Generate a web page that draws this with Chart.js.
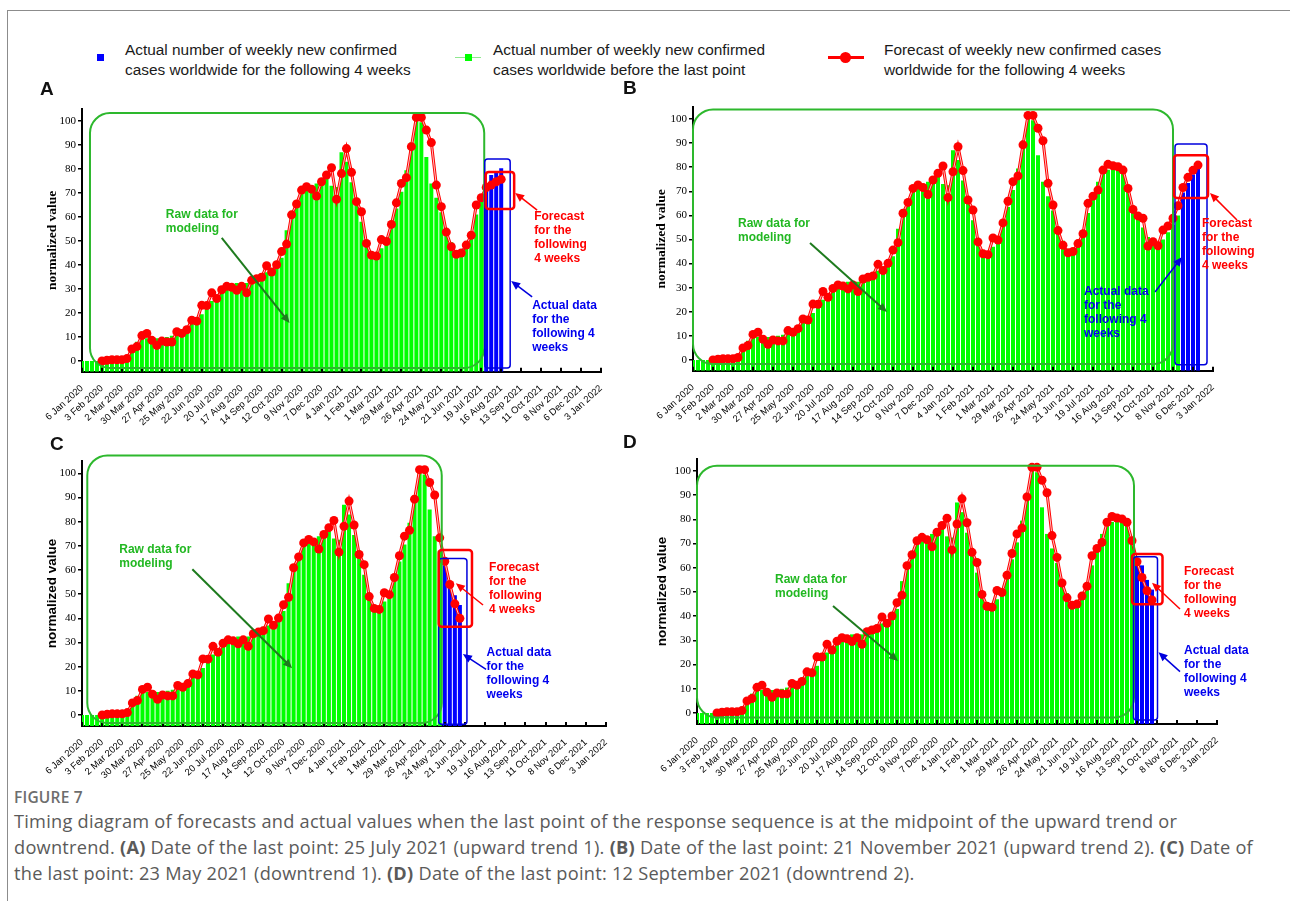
<!DOCTYPE html>
<html>
<head>
<meta charset="utf-8">
<title>Figure 7</title>
<script src="https://cdn.jsdelivr.net/npm/chart.js@4.4.1/dist/chart.umd.min.js"></script>
<style>
  body { margin: 0; width: 1290px; height: 901px; position: relative; overflow: hidden; background: #fff; font-family: 'Liberation Sans', Arial, sans-serif; }
  .rule { position: absolute; background: #8c8c8c; }
  .legend-text { position: absolute; font-size: 15.4px; line-height: 20px; color: #1a1a1a; white-space: nowrap; }
  .swatch { position: absolute; }
  .tag { position: absolute; font-weight: bold; font-size: 19px; line-height: 20px; color: #111; }
  canvas { position: absolute; }
  .fig-no { position: absolute; left: 14px; top: 786px; font: 600 15.5px/22px 'Open Sans'; color: #6d6d6d; letter-spacing: 0.2px; }
  .caption { position: absolute; left: 14px; top: 808px; font: 18.2px/26px 'Open Sans'; letter-spacing: 0.25px; color: #5a5a5a; white-space: nowrap; }
</style>
</head>
<body>
<div class="rule" style="left:7px;top:10px;width:1283px;height:1px"></div>
<div class="rule" style="left:7px;top:10px;width:1px;height:891px"></div>

<!-- legend -->
<div class="swatch" style="left:97px;top:54px;width:7px;height:7px;background:#0000ff"></div>
<div class="legend-text" style="left:125px;top:40px">Actual number of weekly new confirmed<br>cases worldwide for the following 4 weeks</div>
<div class="swatch" style="left:455px;top:57px;width:26px;height:1px;background:#8fe88f"></div>
<div class="swatch" style="left:465px;top:54px;width:7px;height:7px;background:#00ff00"></div>
<div class="legend-text" style="left:493px;top:40px">Actual number of weekly new confirmed<br>cases worldwide before the last point</div>
<div class="swatch" style="left:828px;top:56px;width:36px;height:3px;background:#ff0000"></div>
<div class="swatch" style="left:840px;top:52px;width:11px;height:11px;border-radius:50%;background:#ff0000"></div>
<div class="legend-text" style="left:884px;top:40px">Forecast of weekly new confirmed cases<br>worldwide for the following 4 weeks</div>

<canvas id="chartA"></canvas>
<canvas id="chartB"></canvas>
<canvas id="chartC"></canvas>
<canvas id="chartD"></canvas>

<div class="tag" style="left:40px;top:79px">A</div>
<div class="tag" style="left:623px;top:78px">B</div>
<div class="tag" style="left:50px;top:434px">C</div>
<div class="tag" style="left:623px;top:432px">D</div>

<div class="fig-no">FIGURE 7</div>
<div class="caption">Timing diagram of forecasts and actual values when the last point of the response sequence is at the midpoint of the upward trend or<br>downtrend. <b>(A)</b> Date of the last point: 25 July 2021 (upward trend 1). <b>(B)</b> Date of the last point: 21 November 2021 (upward trend 2). <b>(C)</b> Date of<br>the last point: 23 May 2021 (downtrend 1). <b>(D)</b> Date of the last point: 12 September 2021 (downtrend 2).</div>

<script>
// ─── Data ────────────────────────────────────────
const tickDates = ['6 Jan 2020', '3 Feb 2020', '2 Mar 2020', '30 Mar 2020', '27 Apr 2020', '25 May 2020',
  '22 Jun 2020', '20 Jul 2020', '17 Aug 2020', '14 Sep 2020', '12 Oct 2020', '9 Nov 2020', '7 Dec 2020',
  '4 Jan 2021', '1 Feb 2021', '1 Mar 2021', '29 Mar 2021', '26 Apr 2021', '24 May 2021', '21 Jun 2021',
  '19 Jul 2021', '16 Aug 2021', '13 Sep 2021', '11 Oct 2021', '8 Nov 2021', '6 Dec 2021', '3 Jan 2022'];

// weekly new cases (normalized), week 0 = 6 Jan 2020
const weeklyCases = [
  0, 0, 0, 0, 0, 0, 0, 0.5, 0.5, 1.5,
  5, 8, 9.5, 9.5, 9.5, 9.5, 9.8, 10, 10.5, 12,
  13, 14.5, 16, 17, 19.5, 22.5, 25, 27.5, 30, 31.5,
  32, 32.5, 32, 32.5, 33.5, 35, 36.5, 37, 38, 41,
  43, 54.5, 60, 65, 70.5, 71, 70.5, 74, 75.5, 78.5,
  73, 72.5, 87, 83, 74.5, 68, 58, 48, 45, 44.5,
  47, 51, 57, 63.5, 70.5, 79.5, 91, 101, 99.5, 85,
  74, 68, 62, 55, 49.5, 45.5, 45, 48, 53, 61,
  67, 74, 77.5, 79, 80.3, 80, 79, 72, 64, 61,
  55, 51, 48, 47.5, 50, 53, 56, 60, 69.5, 73.5,
  77, 79.5];

// model fit, starts at week 4 (3 Feb 2020)
const fitStartWeek = 4;
const fittedCases = [
  0, 0.3, 0.5, 0.5, 0.5, 1,
  5, 6, 10.6, 11.5, 8.6, 6.5, 8.3, 7.9, 7.9, 12.2,
  11.5, 13, 17, 16.6, 23.2, 23.1, 28.4, 26, 29.7, 31.1,
  30.7, 29.5, 31.1, 28.4, 33.6, 34.3, 34.9, 39.7, 37.1, 40.1,
  45.6, 48.7, 60.9, 65.4, 71.2, 72.6, 71.6, 68.7, 74.7, 77.5,
  80.5, 67.4, 78.1, 88.5, 78.6, 66.4, 62.2, 49, 44.1, 43.7,
  50.6, 49.8, 56.9, 65.9, 74, 76.4, 89.3, 101.5, 101.5, 96.2,
  91, 73.3, 64.3, 53.7, 47.6, 44.5, 45, 48.3, 52.4, 65,
  68, 70.5, 78.8, 81.2, 80.6, 80.2, 78.8, 71.2, 62.5, 59.8,
  58.8, 47.3, 49.1, 47.4, 53.9, 55.6, 58.8, 64];

const forecastA = [72.3, 73.3, 74.7, 75.7];
const forecastB = [71.6, 75.8, 78.7, 80.9];
const forecastC = [63.6, 54, 46, 40];
const forecastD = [62.5, 56, 50.5, 46.7];

const lastWeekA = 80;  // 25 Jul 2021
const lastWeekB = 97;  // 21 Nov 2021
const lastWeekC = 71;  // 23 May 2021
const lastWeekD = 87;  // 12 Sep 2021

const yTicks = [0, 10, 20, 30, 40, 50, 60, 70, 80, 90, 100];

const forecastNote = ['Forecast', 'for the', 'following', '4 weeks'];
const actualNote = ['Actual data', 'for the', 'following 4', 'weeks'];
const rawNote = ['Raw data for', 'modeling'];

const Y_MIN = -4.5, Y_MAX = 105;

// ─── Panel layout + annotation spots (data units) ─
const serifTitle = { family: 'Liberation Serif', size: 13.5, weight: 'bold' };
const sansTitle = { family: 'Liberation Sans', size: 13.5, weight: 'bold' };

const panels = [
  { id: 'chartA', last: lastWeekA, forecast: forecastA, titleFont: serifTitle, yWidth: 38,
    box: { left: 0, top: 95, width: 630, height: 345 },
    area: { left: 82, right: 601, top: 109, bottom: 371.8 },
    notes: { green: [1.6, 80.6, 103.3, -2.9], blue: [80.7, 85.8, 84.2, -2.9], red: [80.9, 86.6, 78.8, 63.3],
      redText: [90.6, 60], redArrow: [91.2, 62.9, 86.8, 70],
      blueText: [90.2, 22.9], blueArrow: [90.2, 26.7, 86, 33.3],
      greenText: [16.8, 60.8], greenArrow: [28, 51.3, 41.6, 15.8] } },
  { id: 'chartB', last: lastWeekB, forecast: forecastB, titleFont: serifTitle, yWidth: 40,
    box: { left: 630, top: 95, width: 650, height: 345 },
    area: { left: 693, right: 1213, top: 107, bottom: 370.8 },
    notes: { green: [0, 96, 104, -1.7], blue: [96.4, 102.8, 89.6, -2], red: [96.2, 103, 85, 67.2],
      redText: [101.8, 56.4], redArrow: [108.8, 58.1, 103.4, 69.3],
      blueText: [78.2, 28.2], blueArrow: [92.4, 28.2, 97.8, 42.7],
      greenText: [9, 56.4], greenArrow: [23.4, 48.5, 38.8, 19.9] } },
  { id: 'chartC', last: lastWeekC, forecast: forecastC, titleFont: sansTitle, yWidth: 38,
    box: { left: 0, top: 440, width: 630, height: 340 },
    area: { left: 82, right: 606, top: 461.2, bottom: 725.9 },
    notes: { green: [1.05, 71.4, 107.4, -3.3], blue: [70.8, 76.4, 64.8, -3.8], red: [70.8, 77.4, 68.3, 36.5],
      redText: [80.8, 60.9], redArrow: [79.6, 45.5, 74.2, 54.5],
      blueText: [80.3, 25.9], blueArrow: [80.2, 18.9, 75.6, 25.2],
      greenText: [7.4, 68.3], greenArrow: [21.9, 60.3, 41.7, 19.4] } },
  { id: 'chartD', last: lastWeekD, forecast: forecastD, titleFont: sansTitle, yWidth: 43,
    box: { left: 630, top: 440, width: 650, height: 340 },
    area: { left: 697, right: 1217, top: 458.9, bottom: 723.9 },
    notes: { green: [0, 87.4, 102.2, -1.9], blue: [87.3, 92.1, 64.6, -2.9], red: [87, 93.1, 65.7, 44.9],
      redText: [97.4, 58.4], redArrow: [96.6, 43, 91, 53.8],
      blueText: [97.4, 25.7], blueArrow: [96.6, 17.1, 92.3, 25.1],
      greenText: [15.6, 54.9], greenArrow: [27.2, 44.2, 40.2, 21.5] } },
];
const notesById = {};
panels.forEach(p => { notesById[p.id] = p.notes; });

// ─── Drawing helpers ─────────────────────────────
function roundBox(ctx, x0, y0, x1, y1, r) {
  ctx.beginPath();
  ctx.moveTo(x0 + r, y0);
  ctx.arcTo(x1, y0, x1, y1, r);
  ctx.arcTo(x1, y1, x0, y1, r);
  ctx.arcTo(x0, y1, x0, y0, r);
  ctx.arcTo(x0, y0, x1, y0, r);
  ctx.closePath();
  ctx.stroke();
}

function arrow(ctx, x0, y0, x1, y1, color, w) {
  const a = Math.atan2(y1 - y0, x1 - x0), L = 9, H = 4;
  ctx.strokeStyle = color; ctx.fillStyle = color; ctx.lineWidth = w;
  ctx.beginPath();
  ctx.moveTo(x0, y0);
  ctx.lineTo(x1 - L * 0.8 * Math.cos(a), y1 - L * 0.8 * Math.sin(a));
  ctx.stroke();
  ctx.beginPath();
  ctx.moveTo(x1, y1);
  ctx.lineTo(x1 - L * Math.cos(a) + H * Math.sin(a), y1 - L * Math.sin(a) - H * Math.cos(a));
  ctx.lineTo(x1 - L * Math.cos(a) - H * Math.sin(a), y1 - L * Math.sin(a) + H * Math.cos(a));
  ctx.closePath();
  ctx.fill();
}

function lines(ctx, x, y, text, color) {
  ctx.fillStyle = color;
  ctx.font = 'bold 12px "Liberation Sans"';
  ctx.textAlign = 'left';
  ctx.textBaseline = 'middle';
  text.forEach((t, k) => ctx.fillText(t, x, y + k * 14));
}

const notesPlugin = {
  id: 'notes',
  afterDatasetsDraw(chart) {
    const n = notesById[chart.canvas.id];
    if (!n) return;
    const { ctx, chartArea, scales: { x, y } } = chart;
    const X = v => x.getPixelForValue(v), Y = v => y.getPixelForValue(v);
    ctx.save();

    // small inward ticks on the time axis
    ctx.strokeStyle = '#000';
    ctx.lineWidth = 2;
    x.ticks.forEach(t => {
      const px = Math.round(X(t.value));
      ctx.beginPath();
      ctx.moveTo(px, chartArea.bottom);
      ctx.lineTo(px, chartArea.bottom - 4);
      ctx.stroke();
    });

    ctx.strokeStyle = '#2db82d'; ctx.lineWidth = 2;
    roundBox(ctx, X(n.green[0]), Y(n.green[2]), X(n.green[1]), Y(n.green[3]), 20);
    ctx.strokeStyle = '#0000dd'; ctx.lineWidth = 1.5;
    roundBox(ctx, X(n.blue[0]), Y(n.blue[2]), X(n.blue[1]), Y(n.blue[3]), 3);
    ctx.strokeStyle = '#ff0000'; ctx.lineWidth = 2.5;
    roundBox(ctx, X(n.red[0]), Y(n.red[2]), X(n.red[1]), Y(n.red[3]), 3);

    lines(ctx, X(n.redText[0]), Y(n.redText[1]), forecastNote, '#ff0000');
    lines(ctx, X(n.blueText[0]), Y(n.blueText[1]), actualNote, '#0000ee');
    lines(ctx, X(n.greenText[0]), Y(n.greenText[1]), rawNote, '#22b822');

    const ra = n.redArrow, ba = n.blueArrow, ga = n.greenArrow;
    arrow(ctx, X(ra[0]), Y(ra[1]), X(ra[2]), Y(ra[3]), '#ff0000', 1.5);
    arrow(ctx, X(ba[0]), Y(ba[1]), X(ba[2]), Y(ba[3]), '#0000dd', 1.5);
    arrow(ctx, X(ga[0]), Y(ga[1]), X(ga[2]), Y(ga[3]), '#1e7b1e', 2);
    ctx.restore();
  }
};

// ─── Build one panel ─────────────────────────────
function makePanel(p) {
  const canvas = document.getElementById(p.id);
  canvas.width = p.box.width;
  canvas.height = p.box.height;
  canvas.style.left = p.box.left + 'px';
  canvas.style.top = p.box.top + 'px';

  const green = [], blue = [], fit = [];
  for (let i = 0; i <= p.last; i++) green.push({ x: i, y: weeklyCases[i] });
  for (let k = 1; k <= 4; k++) blue.push({ x: p.last + k, y: weeklyCases[p.last + k] });
  for (let i = fitStartWeek; i <= p.last; i++) fit.push({ x: i, y: fittedCases[i - fitStartWeek] });
  p.forecast.forEach((v, k) => fit.push({ x: p.last + 1 + k, y: v }));

  const xHeight = 60;
  const target = {
    left: p.area.left - p.box.left, right: p.area.right - p.box.left,
    top: p.area.top - p.box.top, bottom: p.area.bottom - p.box.top,
  };

  const chart = new Chart(canvas, {
    type: 'bar',
    data: {
      datasets: [
        { type: 'line', data: fit, showLine: false, pointRadius: 4.5, pointBackgroundColor: '#ff0000', pointBorderWidth: 0, order: 0 },
        { type: 'line', data: fit, borderColor: '#ffc4c4', borderWidth: 1, pointRadius: 0, order: 1 },
        { type: 'line', data: fit, borderColor: '#ff0000', borderWidth: 3, pointRadius: 0, order: 2 },
        { data: blue, backgroundColor: '#0000ff', base: Y_MIN, grouped: false, barPercentage: 0.8, categoryPercentage: 1, order: 3 },
        { data: green, backgroundColor: '#00ff00', base: Y_MIN, grouped: false, barPercentage: 0.8, categoryPercentage: 1, order: 4 },
      ],
    },
    options: {
      responsive: false,
      animation: false,
      events: [],
      layout: {
        padding: {
          left: target.left - p.yWidth, top: target.top,
          right: p.box.width - target.right, bottom: p.box.height - target.bottom - xHeight,
        },
      },
      plugins: { legend: { display: false }, tooltip: { enabled: false } },
      scales: {
        x: {
          type: 'linear', min: 0, max: 104, offset: false,
          afterBuildTicks: s => { s.ticks = tickDates.map((_, k) => ({ value: k * 4 })); },
          afterFit: s => { s.height = xHeight; },
          grid: { display: false },
          border: { color: '#000', width: 2 },
          ticks: {
            autoSkip: false, maxRotation: 42, minRotation: 42, padding: 3, color: '#000',
            font: { family: 'Liberation Sans', size: 9.5 },
            callback: (v, i) => tickDates[i],
          },
        },
        y: {
          min: Y_MIN, max: Y_MAX,
          afterBuildTicks: s => { s.ticks = yTicks.map(v => ({ value: v })); },
          afterFit: s => { s.width = p.yWidth; },
          grid: { drawOnChartArea: false, tickLength: 4, color: '#000', lineWidth: 1.5 },
          border: { color: '#000', width: 2 },
          ticks: { color: '#000', padding: 2, font: { family: 'Liberation Serif', size: 11 } },
          title: { display: true, text: 'normalized value', color: '#000', font: p.titleFont, padding: { top: 0, bottom: 0 } },
        },
      },
    },
    plugins: [notesPlugin],
  });

  // nudge padding so the plot area lands where the figure has it
  for (let n = 0; n < 2; n++) {
    const a = chart.chartArea;
    const pad = chart.config.options.layout.padding;
    chart.config.options.layout.padding = {
      left: pad.left + (target.left - a.left),
      top: pad.top + (target.top - a.top),
      right: pad.right + (a.right - target.right),
      bottom: pad.bottom + (a.bottom - target.bottom),
    };
    chart.update();
  }
  return chart;
}

panels.forEach(makePanel);
</script>
</body>
</html>
